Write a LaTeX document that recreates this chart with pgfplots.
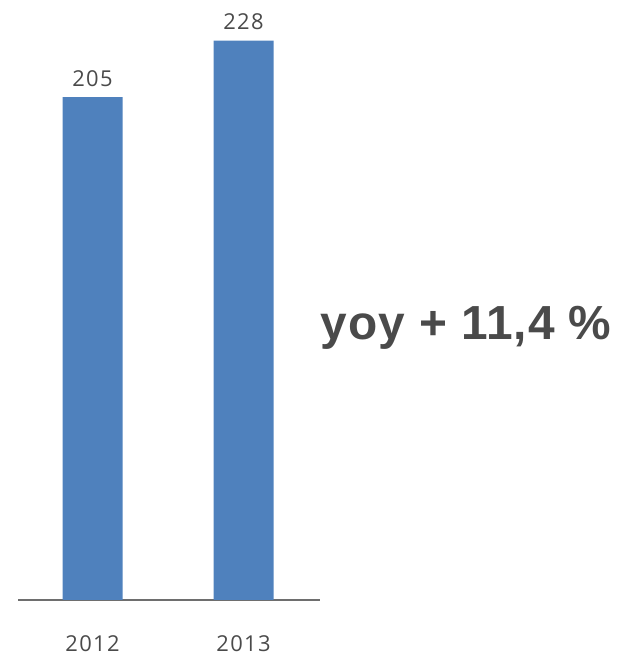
\documentclass[border=0pt]{standalone}
\usepackage{fontspec}
\setmainfont[LetterSpace=6]{Open Sans}
\newfontfamily\bigfont[LetterSpace=2]{Liberation Sans}
\usepackage{pgfplots}
\pgfplotsset{compat=1.18}
\definecolor{barblue}{HTML}{4F81BD}
\definecolor{txt}{HTML}{4A4A4A}
\definecolor{axl}{HTML}{6E6E6E}
\begin{document}
\begin{tikzpicture}[x=1bp,y=1bp]
\useasboundingbox (0,0) rectangle (623,658);
\begin{axis}[
    at={(18bp,58bp)}, anchor=south west,
    scale only axis,
    width=302bp, height=588.7bp,
    xmin=-0.4934, xmax=1.5066,
    ymin=0, ymax=240,
    axis x line*=bottom,
    axis y line=none,
    x axis line style={draw=axl, line width=1.3pt, -},
    xtick={0,1},
    xticklabels={2012,2013},
    xtick style={draw=none},
    xticklabel style={font=\fontsize{22}{24}\selectfont, text=txt, yshift=-28bp},
    /pgf/number format/assume math mode=true,
    ybar, bar width=60bp,
    nodes near coords,
    nodes near coords style={font=\fontsize{22}{24}\selectfont, text=txt, yshift=7bp},
    clip=false,
]
\addplot[fill=barblue, draw=none] coordinates {(0,205) (1,228)};
\end{axis}
\node[font=\fontsize{48}{52}\selectfont\bigfont\bfseries, text=txt] at (466,330) {yoy + 11,4 \%};
\end{tikzpicture}
\end{document}
